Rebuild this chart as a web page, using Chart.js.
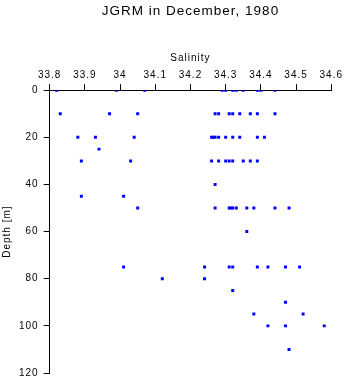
<!DOCTYPE html>
<html>
<head>
<meta charset="utf-8">
<script src="https://cdn.jsdelivr.net/npm/chart.js@4/dist/chart.umd.min.js"></script>
<style>
  html, body { margin: 0; padding: 0; background: #fff; }
  #wrap { width: 346px; height: 384px; }
</style>
</head>
<body>
<div id="wrap"><canvas id="chart"></canvas></div>
<script>
// Salinity readings, grouped by sampling depth (m)
const depth0   = [33.82, 33.99, 34.07, 34.29, 34.30, 34.32, 34.33, 34.35, 34.39, 34.40, 34.44];
const depth10  = [33.83, 33.97, 34.05, 34.27, 34.28, 34.31, 34.32, 34.34, 34.37, 34.39, 34.44];
const depth20  = [33.88, 33.93, 34.04, 34.26, 34.265, 34.27, 34.28, 34.30, 34.32, 34.34, 34.39, 34.41];
const depth25  = [33.94];
const depth30  = [33.89, 34.03, 34.26, 34.28, 34.30, 34.31, 34.32, 34.35, 34.37, 34.39];
const depth40  = [34.27];
const depth45  = [33.89, 34.01];
const depth50  = [34.05, 34.27, 34.31, 34.315, 34.32, 34.33, 34.36, 34.38, 34.44, 34.48];
const depth60  = [34.36];
const depth75  = [34.01, 34.24, 34.31, 34.32, 34.39, 34.42, 34.47, 34.51];
const depth80  = [34.12, 34.24];
const depth85  = [34.32];
const depth90  = [34.47];
const depth95  = [34.38, 34.52];
const depth100 = [34.42, 34.47, 34.58];
const depth110 = [34.48];

const levels = [0, 10, 20, 25, 30, 40, 45, 50, 60, 75, 80, 85, 90, 95, 100, 110];
const readings = [depth0, depth10, depth20, depth25, depth30, depth40, depth45, depth50,
                  depth60, depth75, depth80, depth85, depth90, depth95, depth100, depth110];

const salinityTicks = [33.8, 33.9, 34.0, 34.1, 34.2, 34.3, 34.4, 34.5, 34.6];
const depthTicks = [0, 20, 40, 60, 80, 100, 120];

const points = [];
levels.forEach(function (d, i) {
  readings[i].forEach(function (s) { points.push({ x: s, y: d }); });
});

const FONT = "'Liberation Sans', Arial, sans-serif";

// spread the glyphs a little, like the old plotting output
const spacing = {
  id: 'spacing',
  beforeLayout: function (chart) { chart.ctx.letterSpacing = '1px'; },
  beforeDraw: function (chart) { chart.ctx.letterSpacing = '1px'; }
};

function fixTicks(values) {
  return function (axis) {
    axis.ticks = values.map(function (v) { return { value: v }; });
  };
}

new Chart(document.getElementById('chart'), {
  type: 'scatter',
  data: {
    datasets: [{
      data: points,
      pointStyle: 'rect',
      pointRadius: 2.1,
      pointHoverRadius: 2.1,
      borderWidth: 0,
      backgroundColor: '#0000ff',
      borderColor: '#0000ff'
    }]
  },
  plugins: [spacing],
  options: {
    responsive: true,
    maintainAspectRatio: false,
    animation: false,
    events: [],
    layout: { padding: { left: 1, right: 2, top: 2, bottom: 1 } },
    plugins: {
      legend: { display: false },
      tooltip: { enabled: false },
      title: {
        display: true,
        fullSize: false,
        text: 'JGRM in December, 1980',
        color: '#000',
        font: { family: FONT, size: 13.5, weight: 'normal' },
        padding: { top: 1, bottom: 33 }
      }
    },
    scales: {
      x: {
        type: 'linear',
        position: 'top',
        min: 33.8,
        max: 34.6,
        afterBuildTicks: fixTicks(salinityTicks),
        title: {
          display: true,
          text: 'Salinity',
          color: '#000',
          font: { family: FONT, size: 10 },
          padding: { top: 0, bottom: 2 }
        },
        ticks: {
          color: '#000',
          font: { family: FONT, size: 10 },
          padding: 3,
          maxRotation: 0,
          callback: function (v) { return String(parseFloat(v.toFixed(1))); }
        },
        grid: { drawOnChartArea: false, drawTicks: true, tickLength: 6, color: '#000', lineWidth: 1 },
        border: { display: true, color: '#000', width: 1 }
      },
      y: {
        type: 'linear',
        reverse: true,
        min: 0,
        max: 120,
        afterBuildTicks: fixTicks(depthTicks),
        title: {
          display: true,
          text: 'Depth [m]',
          color: '#000',
          font: { family: FONT, size: 10 },
          padding: { top: 0, bottom: 1 }
        },
        ticks: {
          color: '#000',
          font: { family: FONT, size: 10 },
          padding: 5
        },
        grid: { drawOnChartArea: false, drawTicks: true, tickLength: 6, color: '#000', lineWidth: 1 },
        border: { display: true, color: '#000', width: 1 }
      }
    }
  }
});
</script>
</body>
</html>
